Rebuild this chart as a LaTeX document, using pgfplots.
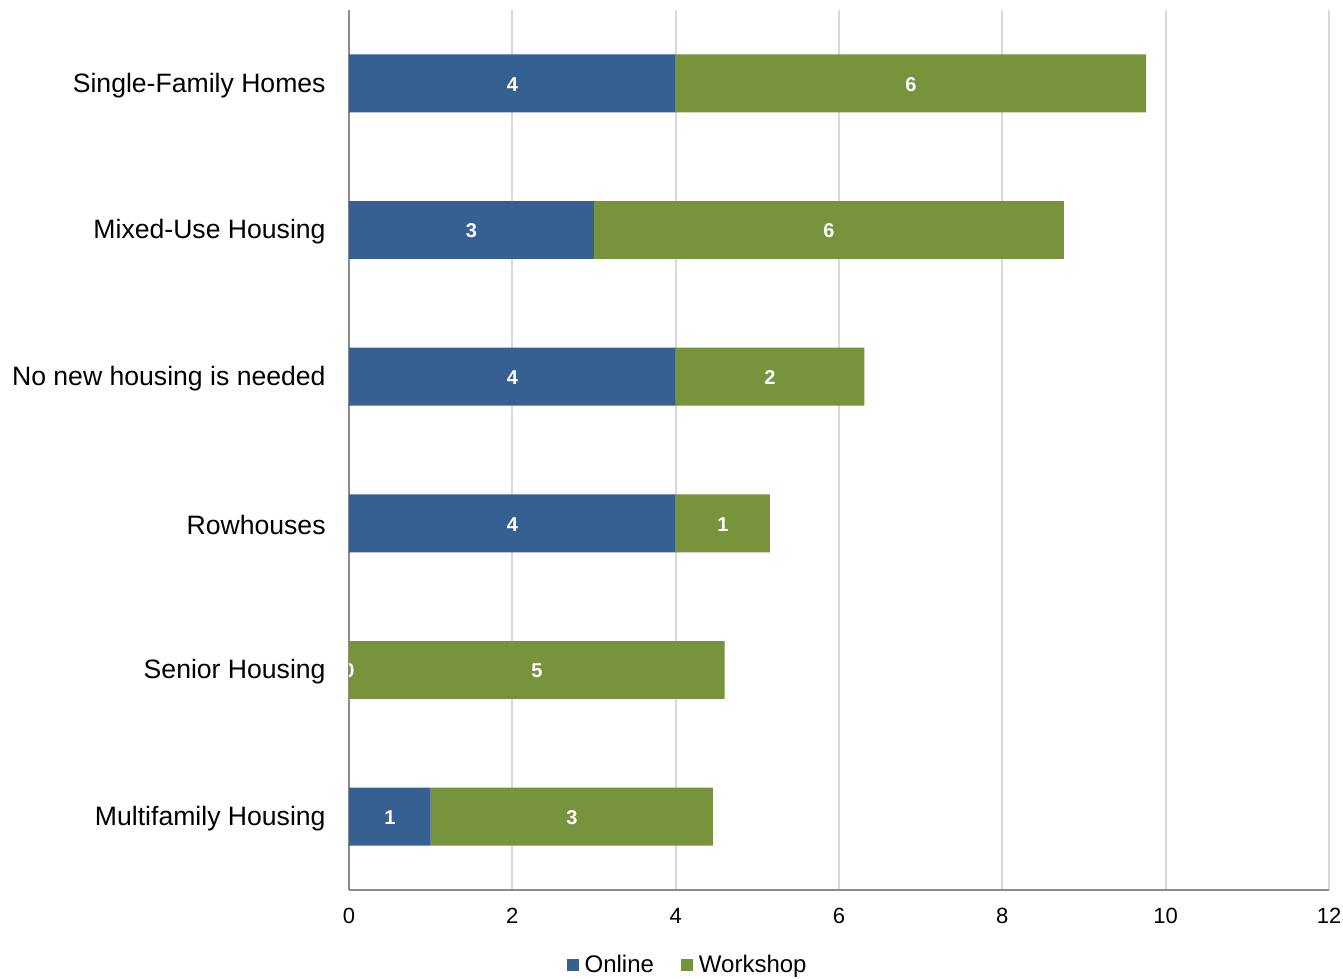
\documentclass[border=0pt]{standalone}
\usepackage{pgfplots}
\usepackage{pgfplotstable}
\pgfplotsset{compat=1.18}
\usepackage{fontspec}
\setmainfont{Liberation Sans}
\definecolor{onl}{HTML}{366092}
\definecolor{wks}{HTML}{77933C}
\definecolor{gridc}{HTML}{D9D9D9}
\definecolor{axc}{HTML}{8C8C8C}

% y = 0 is the top category
\pgfplotstableread{
y online workshop
0 4 5.76
1 3 5.755
2 4 2.31
3 4 1.155
4 0 4.60
5 1 3.457
}\datatable

% label positions (segment midpoints) and shown (rounded) values
\pgfplotstableread{
x y lab
2 0 4
6.88 0 6
1.5 1 3
5.878 1 6
2 2 4
5.155 2 2
2 3 4
4.578 3 1
0 4 0
2.30 4 5
0.5 5 1
2.729 5 3
}\labtable

\pgfplotsset{
  common/.style={
    scale only axis, width=490pt, height=440pt,
    xmin=0, xmax=12, ymin=-0.5, ymax=5.5, y dir=reverse,
  }
}

\begin{document}
\begin{tikzpicture}
\begin{axis}[common, name=main,
  xbar stacked, bar width=0.395,
  ytick={0,...,5},
  yticklabels={Single-Family Homes, Mixed-Use Housing, No new housing is needed, Rowhouses, Senior Housing, Multifamily Housing},
  xtick={0,2,...,12},
  /pgf/number format/assume math mode=true,
  xmajorgrids, grid style={gridc, line width=1pt},
  axis x line*=bottom, axis y line*=left,
  axis line style={axc, line width=1pt, -},
  major tick length=0pt,
  yticklabel style={font=\fontsize{13.3}{16}\selectfont, inner sep=0pt, xshift=-11.5pt, yshift=-1pt},
  xticklabel style={font=\fontsize{11}{13}\selectfont, inner sep=0pt, yshift=-9.1pt},
  legend style={at={(0.346,0)}, yshift=-37.5pt, anchor=center, draw=none, fill=none,
     font=\fontsize{12}{14}\selectfont, legend columns=2, inner sep=0pt,
     /tikz/every even column/.append style={column sep=12pt},
     nodes={inner sep=1.5pt}},
  legend image code/.code={\fill[#1] (0pt,-3pt) rectangle (6pt,3pt);},
]
\addplot[fill=onl, draw=none] table[x=online, y=y] {\datatable};
\addlegendentry{\hspace{1.5pt}Online}
\addplot[fill=wks, draw=none] table[x=workshop, y=y] {\datatable};
\addlegendentry{\hspace{1.5pt}Workshop}
\end{axis}
\begin{axis}[common, hide axis, clip marker paths=true]
\addplot[draw=none, mark=none, nodes near coords, point meta=explicit symbolic,
  every node near coord/.append style={anchor=center, text=white, yshift=-0.5pt, font=\fontsize{10}{12}\selectfont\bfseries}]
  table[x=x, y=y, meta=lab] {\labtable};
\end{axis}
\path (main.south west) ++(-174.5pt,-43.5pt) coordinate (bbA);
\path (main.north east) ++(7pt,5pt) coordinate (bbB);
\path (bbA) rectangle (bbB);
\end{tikzpicture}
\end{document}
